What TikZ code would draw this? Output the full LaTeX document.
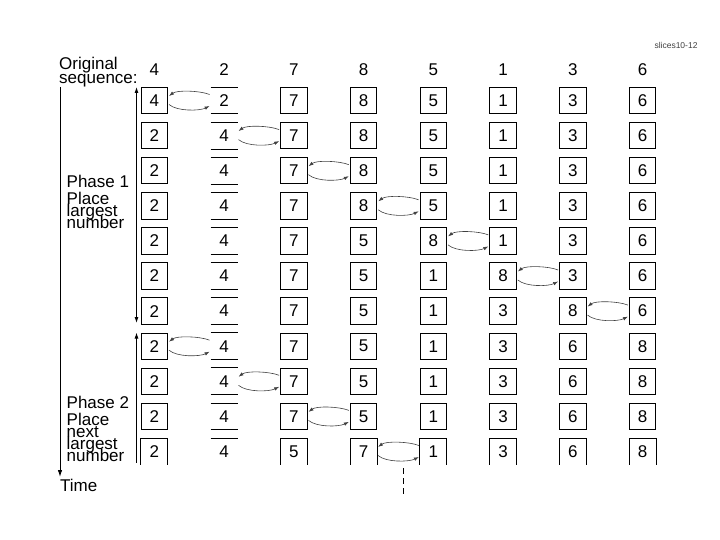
\documentclass[tikz,border=0pt]{standalone}
\usepackage{fontspec}
\setmainfont{Liberation Sans}
\usetikzlibrary{calc,arrows.meta}
\begin{document}
\begin{tikzpicture}[x=1pt,y=-1pt,
  txt/.style={inner sep=0pt,font=\fontsize{17}{17}\selectfont},
  box/.style={txt,draw,line width=0.9pt,minimum size=26.5pt},
  cell/.style={txt,minimum size=26.5pt},
  lbl/.style={txt,anchor=base west},
  hdr/.style={txt,anchor=base},
  swp/.style={line width=0.6pt,draw=black!75,-{Latex[length=5pt,width=3.5pt]}},
  rule/.style={line width=0.9pt},
  axis/.style={line width=0.9pt}]
\useasboundingbox (0,0) rectangle (720,540);
% small header
\node[inner sep=0pt,font=\fontsize{8.5}{8.5}\selectfont,text=black!75] (tag) at (676,45) {slices10-12};
% left labels
\node[lbl] (o1) at (59,70) {Original};
\node[lbl] (o2) at (59,83.3) {sequence:};
\node[lbl] (pa1) at (66.5,187.7) {Phase 1};
\node[lbl] (pa2) at (66.5,204.7) {Place};
\node[lbl] (pa3) at (66.5,217) {largest};
\node[lbl] (pa4) at (66.5,229) {number};
\node[lbl] (pb1) at (66.5,408.5) {Phase 2};
\node[lbl] (pb2) at (66.5,425.7) {Place};
\node[lbl] (pb3) at (66.5,437) {next};
\node[lbl] (pb4) at (66.5,449.3) {largest};
\node[lbl] (pb5) at (66.5,461.7) {number};
\node[lbl] (time) at (60,491) {Time};
% header numbers
\foreach \v [count=\c from 0] in {4,2,7,8,5,1,3,6}
  \node[hdr] (h-\c) at ({154.3+69.76*\c},75.7) {\v};
% rows
\foreach \r/\vals in {1/{4,2,7,8,5,1,3,6},2/{2,4,7,8,5,1,3,6},3/{2,4,7,8,5,1,3,6},
  4/{2,4,7,8,5,1,3,6},5/{2,4,7,5,8,1,3,6},6/{2,4,7,5,1,8,3,6},7/{2,4,7,5,1,3,8,6},
  8/{2,4,7,5,1,3,6,8},9/{2,4,7,5,1,3,6,8},10/{2,4,7,5,1,3,6,8},11/{2,4,5,7,1,3,6,8}}{
  \foreach \v [count=\c from 0] in \vals {
    \ifnum\c=1
      \node[cell] (n-\r-\c) at ({154.3+69.76*\c},{100.5+35.1*(\r-1)}) {\v};
      \draw[rule] (n-\r-\c.north west) -- (n-\r-\c.north east);
      \ifnum\r<11
        \draw[rule] (n-\r-\c.south west) -- (n-\r-\c.south east);
      \fi
    \else
      \ifnum\r<11
        \node[box] (n-\r-\c) at ({154.3+69.76*\c},{100.5+35.1*(\r-1)}) {\v};
      \else
        \node[cell] (n-\r-\c) at ({154.3+69.76*\c},{100.5+35.1*(\r-1)}) {\v};
        \draw[rule] (n-\r-\c.south west) -- (n-\r-\c.north west) -- (n-\r-\c.north east) -- (n-\r-\c.south east);
      \fi
    \fi
  }
}
% swaps
\foreach \r/\c in {1/0,2/1,3/2,4/3,5/4,6/5,7/6,8/0,9/1,10/2,11/3}{
  \pgfmathtruncatemacro\d{\c+1}
  \draw[swp] ($(n-\r-\d.west)+(-1,-6)$) .. controls +(-10,-4) and +(8,-6) .. ($(n-\r-\c.east)+(1,-4.5)$);
  \draw[swp] ($(n-\r-\c.east)+(1,4)$) .. controls +(8,7) and +(-10,5) .. ($(n-\r-\d.west)+(-1,5.5)$);
}
% phase arrows
\coordinate (p1t) at (136.5,87);
\coordinate (p1b) at (136.5,323);
\coordinate (p2t) at (136.5,332.5);
\coordinate (p2b) at (136.5,463);
\draw[axis,{Latex[length=6pt,width=4pt]}-{Latex[length=6pt,width=4pt]}] (p1t) -- (p1b);
\draw[axis,{Latex[length=6pt,width=4pt]}-] (p2t) -- (p2b);
% time arrow
\coordinate (tt) at (60,87);
\coordinate (tb) at (60,477);
\draw[axis,-{Latex[length=7pt,width=4.5pt]}] (tt) -- (tb);
% dashed marker
\coordinate (d1) at (403,468);
\coordinate (d2) at (403,497);
\draw[line width=0.8pt,dash pattern=on 6pt off 4pt] (d1) -- (d2);
\end{tikzpicture}
\end{document}
